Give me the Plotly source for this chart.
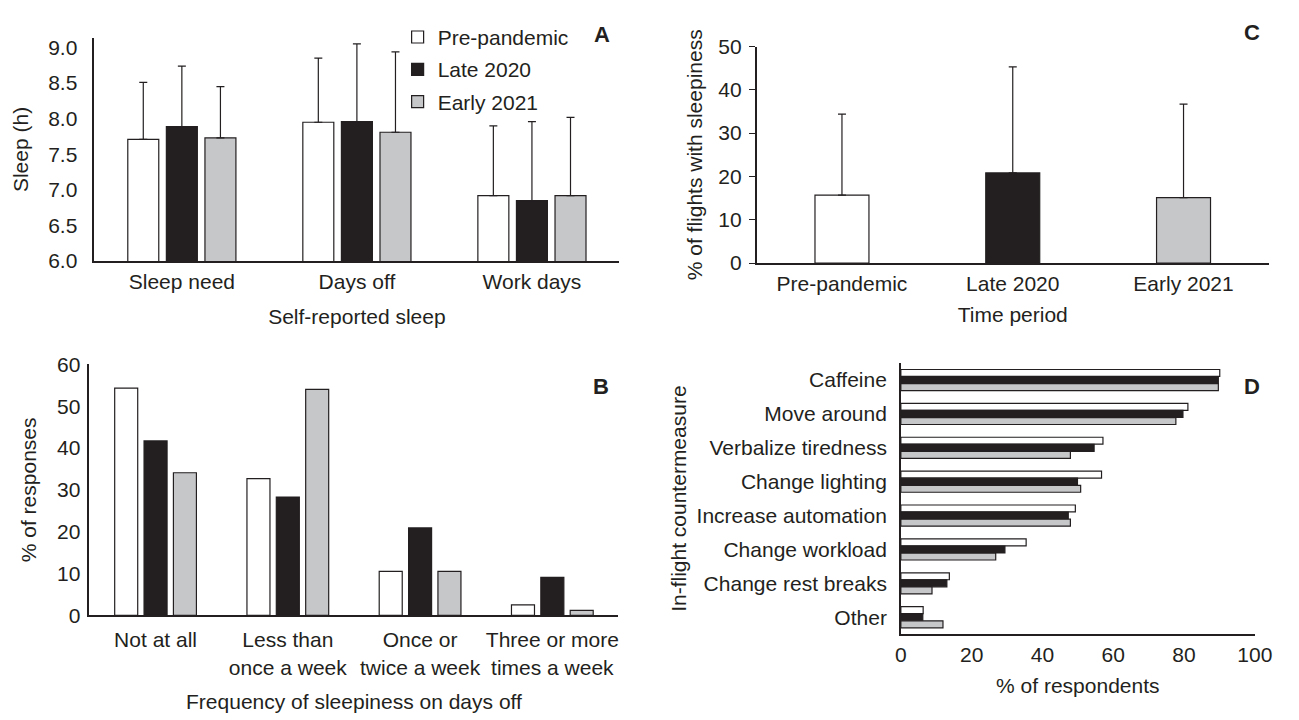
import plotly.graph_objects as go

# ---------------- data ----------------
periods = ["Pre-pandemic", "Late 2020", "Early 2021"]

# Panel A: self-reported sleep (h), mean and SD (upper error)
a_categories = ["Sleep need", "Days off", "Work days"]
a_pre = [7.71, 7.95, 6.92]
a_late = [7.89, 7.96, 6.85]
a_early = [7.73, 7.81, 6.92]
a_pre_err = [0.80, 0.90, 0.98]
a_late_err = [0.85, 1.09, 1.11]
a_early_err = [0.72, 1.13, 1.10]
a_yticks = [6.0, 6.5, 7.0, 7.5, 8.0, 8.5, 9.0]

# Panel B: frequency of sleepiness on days off (% of responses)
b_categories = ["Not at all", "Less than<br>once a week", "Once or<br>twice a week", "Three or more<br>times a week"]
b_pre = [54.3, 32.7, 10.5, 2.5]
b_late = [41.7, 28.3, 20.9, 9.1]
b_early = [34.1, 54.0, 10.5, 1.2]

# Panel C: % of flights with sleepiness
c_values = [15.7, 20.8, 15.1]
c_err = [18.7, 24.5, 21.6]

# Panel D: in-flight countermeasures (% of respondents)
d_categories = ["Caffeine", "Move around", "Verbalize tiredness", "Change lighting",
                "Increase automation", "Change workload", "Change rest breaks", "Other"]
d_pre = [90.1, 81.1, 57.1, 56.7, 49.3, 35.4, 13.7, 6.3]
d_late = [89.7, 79.7, 54.6, 49.9, 47.3, 29.4, 13.0, 6.2]
d_early = [89.7, 77.7, 47.9, 50.8, 47.9, 26.8, 8.8, 11.9]

# ---------------- styles ----------------
INK = "#231f20"
FILLS = ["#ffffff", "#231f20", "#c6c7c9"]
FONT = "Liberation Sans, Arial, Helvetica, sans-serif"
FS = 21
W, H = 1299, 720


def px_x(p):
    return p / W


def px_y(p):
    return 1 - p / H


fig = go.Figure()

# Panel A
slot_a, w_a = 0.2204, 0.177
for i, (vals, errs) in enumerate([(a_pre, a_pre_err), (a_late, a_late_err), (a_early, a_early_err)]):
    fig.add_trace(go.Bar(
        x=a_categories, y=vals, name=periods[i], legendgroup=periods[i],
        width=w_a, offset=(i - 1) * slot_a - w_a / 2,
        marker=dict(color=FILLS[i], line=dict(color=INK, width=1.2)),
        error_y=dict(type="data", array=errs, arrayminus=[0] * len(errs), symmetric=False,
                     color=INK, thickness=1.2, width=4),
        xaxis="x", yaxis="y", showlegend=True))

# Panel B
slot_b, w_b = 0.222, 0.174
for i, vals in enumerate([b_pre, b_late, b_early]):
    fig.add_trace(go.Bar(
        x=b_categories, y=vals, name=periods[i], legendgroup=periods[i],
        width=w_b, offset=(i - 1) * slot_b - w_b / 2,
        marker=dict(color=FILLS[i], line=dict(color=INK, width=1.2)),
        xaxis="x2", yaxis="y2", showlegend=False))

# Panel C
w_c = 0.316
fig.add_trace(go.Bar(
    x=periods, y=c_values, width=w_c, offset=-w_c / 2,
    marker=dict(color=FILLS, line=dict(color=INK, width=1.2)),
    error_y=dict(type="data", array=c_err, arrayminus=[0] * len(c_err), symmetric=False,
                 color=INK, thickness=1.2, width=4),
    xaxis="x3", yaxis="y3", showlegend=False))

# Panel D
slot_d, w_d = 0.209, 0.205
for i, vals in enumerate([d_pre, d_late, d_early]):
    fig.add_trace(go.Bar(
        y=d_categories, x=vals, orientation="h", name=periods[i], legendgroup=periods[i],
        width=w_d, offset=(i - 1) * slot_d - w_d / 2,
        marker=dict(color=FILLS[i], line=dict(color=INK, width=1.2)),
        xaxis="x4", yaxis="y4", showlegend=False))

axis_common = dict(showline=True, linecolor=INK, linewidth=1.5, showgrid=False, zeroline=False,
                   tickfont=dict(family=FONT, size=FS, color=INK),
                   title_font=dict(family=FONT, size=FS, color=INK))
hidden_ticks = dict(ticks="outside", tickcolor="rgba(0,0,0,0)")

fig.update_layout(
    width=W, height=H,
    margin=dict(l=0, r=0, t=0, b=0),
    paper_bgcolor="white", plot_bgcolor="white",
    barmode="overlay",
    font=dict(family=FONT, size=FS, color=INK),
    showlegend=True,
    legend=dict(x=px_x(399), y=px_y(5), xanchor="left", yanchor="top",
                bgcolor="rgba(0,0,0,0)", font=dict(family=FONT, size=FS, color=INK),
                tracegroupgap=2, traceorder="grouped"),
    # Panel A
    xaxis=dict(domain=[px_x(90), px_x(625)], anchor="y", type="category", range=[-0.5, 2.5],
               ticklen=1, title=dict(text="Self-reported sleep", standoff=17), **hidden_ticks, **axis_common),
    yaxis=dict(domain=[px_y(257.3), px_y(26.7)], anchor="x", range=[6, 9.136],
               tickvals=a_yticks, tickformat=".1f", ticklen=11,
               title=dict(text="Sleep (h)", standoff=14), **hidden_ticks, **axis_common),
    # Panel B
    xaxis2=dict(domain=[px_x(85), px_x(624)], anchor="y2", type="category", range=[-0.5, 3.5],
                ticklen=5, title=dict(text="Frequency of sleepiness on days off", standoff=17),
                **hidden_ticks, **axis_common),
    yaxis2=dict(domain=[px_y(623.3), px_y(364)], anchor="x2", range=[0, 60], dtick=10,
                ticklen=3, title=dict(text="% of responses", standoff=15), **hidden_ticks, **axis_common),
    # Panel C
    xaxis3=dict(domain=[px_x(764.7), px_x(1286.7)], anchor="y3", type="category", range=[-0.5, 2.5],
                ticklen=1, title=dict(text="Time period", standoff=13), **hidden_ticks, **axis_common),
    yaxis3=dict(domain=[px_y(259.3), px_y(35.7)], anchor="x3", range=[0, 50], dtick=10,
                ticks="outside", ticklen=6, tickcolor=INK, tickwidth=1.2, ticklabelstandoff=3,
                title=dict(text="% of flights with sleepiness", standoff=10), **axis_common),
    # Panel D
    xaxis4=dict(domain=[px_x(911.7), px_x(1272.3)], anchor="y4", range=[0, 100], dtick=20,
                ticklen=1, title=dict(text="% of respondents", standoff=13), **hidden_ticks, **axis_common),
    yaxis4=dict(domain=[px_y(642.7), px_y(362.7)], anchor="x4", type="category",
                range=[7.5, -0.5], ticklen=8,
                title=dict(text="In-flight countermeasure", standoff=4), **hidden_ticks, **axis_common),
)

for letter, lx, ly in [("A", 607, 23), ("B", 606, 387), ("C", 1269, 21), ("D", 1269, 387)]:
    fig.add_annotation(text=f"<b>{letter}</b>", x=px_x(lx), y=px_y(ly), xref="paper", yref="paper",
                       xanchor="center", yanchor="middle", showarrow=False,
                       font=dict(family=FONT, size=22, color=INK))

fig.write_html("out.html", config={"displayModeBar": False},
               post_script="document.body.style.margin='0px';document.body.style.overflow='hidden';")
